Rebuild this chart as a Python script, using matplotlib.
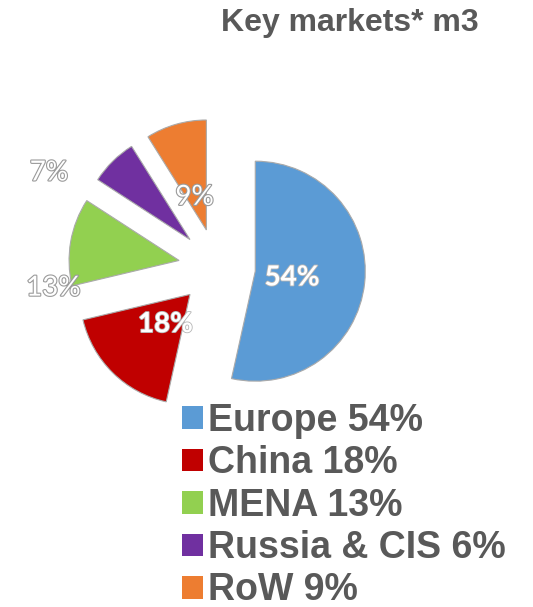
import numpy as np
import matplotlib.pyplot as plt
import matplotlib.patheffects as pe
from matplotlib.patches import Patch

# data
markets = ['Europe', 'China', 'MENA', 'Russia & CIS', 'RoW']
shares = [54, 18, 13, 7, 9]           # as labelled on the slices
legend_shares = [54, 18, 13, 6, 9]    # as written in the legend
colors = ['#5B9BD5', '#C00000', '#92D050', '#7030A0', '#ED7D31']

# label placement per slice (fraction of radius, angle shift in degrees)
label_dist = [0.34, 0.35, 1.17, 1.42, 0.32]
label_shift = [-3.5, 5, 22, 20, 3.5]
label_bold = [True, True, False, False, False]

W, H = 533, 607
cx, cy, rpx = 217, 267, 110   # pie centre and radius in pixels

fig = plt.figure(figsize=(W/100, H/100), dpi=100)
ax = fig.add_axes([0, 0, 1, 1])

wedges, _ = ax.pie(shares, colors=colors, startangle=90, counterclock=False,
                   explode=[0.35]*5, radius=1,
                   wedgeprops=dict(edgecolor='#aaaaaa', linewidth=0.8))
ax.set_xlim(-cx/rpx, (W-cx)/rpx)
ax.set_ylim(-(H-cy)/rpx, cy/rpx)
ax.axis('off')

for w, s, d, sh, b in zip(wedges, shares, label_dist, label_shift, label_bold):
    a = np.deg2rad((w.theta1 + w.theta2)/2 + sh)
    x = w.center[0] + d*w.r*np.cos(a)
    y = w.center[1] + d*w.r*np.sin(a)
    if b:
        t = ax.text(x, y, f'{s}%', ha='center', va='center', color='white',
                    fontsize=20, fontweight='bold', family='Lato')
        t.set_path_effects([pe.withStroke(linewidth=1.2, foreground='#b5b5b5')])
    else:
        t = ax.text(x, y, f'{s}%', ha='center', va='center', color='white',
                    fontsize=20, family='Lato')
        t.set_path_effects([pe.withStroke(linewidth=1.6, foreground='#9a9a9a')])

fig.text(350/W, 1 - 23/H, 'Key markets* m3', ha='center', va='center',
         fontsize=23, fontweight='bold', color='#595959', family='Liberation Sans')

handles = [Patch(facecolor=c, edgecolor='none') for c in colors]
labels = [f'{m} {v}%' for m, v in zip(markets, legend_shares)]
leg = fig.legend(handles, labels, loc='upper left',
                 bbox_to_anchor=(182/W, 1 - 403/H), frameon=False,
                 handlelength=0.55, handleheight=0.55, handletextpad=0.15,
                 labelspacing=0.17, borderpad=0, borderaxespad=0,
                 prop=dict(family='Liberation Sans', weight='bold', size=27))
for t in leg.get_texts():
    t.set_color('#595959')

fig.savefig('out.png', dpi=100)
